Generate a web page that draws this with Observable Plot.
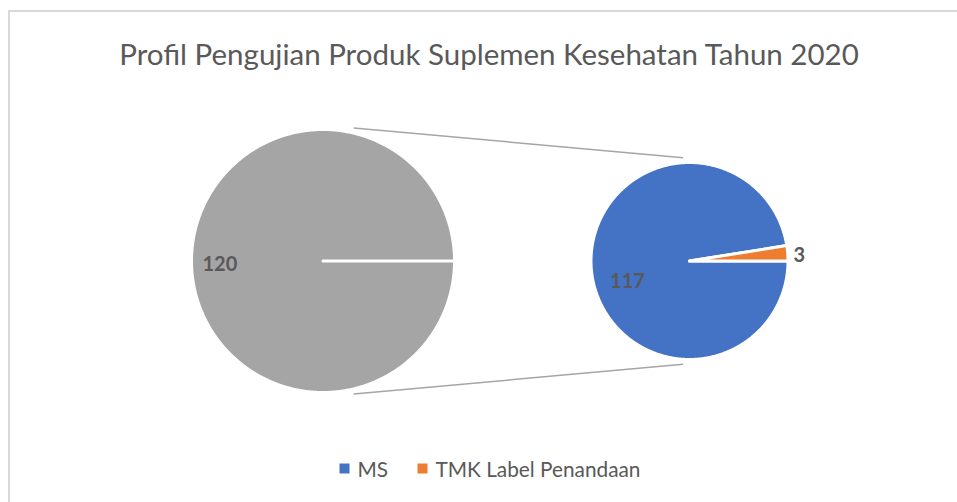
<!DOCTYPE html>
<html><head><meta charset="utf-8">
<script src="https://cdn.jsdelivr.net/npm/d3@7"></script>
<script src="https://cdn.jsdelivr.net/npm/@observablehq/plot@0.6"></script>
<style>html,body{margin:0;padding:0;background:#fff;} svg{display:block}</style>
</head><body><div id="chart"></div>
<script>
// ---- data ----
const title = "Profil Pengujian Produk Suplemen Kesehatan Tahun 2020";
const primaryValues = [120];            // first pie: the split-off group
const categories = ["MS", "TMK Label Penandaan"];
const values = [117, 3];                // second pie
const colors = ["#4472C4", "#ED7D31"];
const otherColor = "#A5A5A5";
const textColor = "#595959";

// ---- layout ----
const W = 957, H = 502;
const P1 = {cx: 322.5, cy: 260.5, r: 131.5};
const P2 = {cx: 689, cy: 260.5, r: 98.5};
const rad = d => d * Math.PI / 180;
const polar = (p, aDeg, rr) => ({x: p.cx + rr * Math.cos(rad(aDeg)), y: p.cy - rr * Math.sin(rad(aDeg))});

function wedge(p, a0, a1, key) {
  const pts = [{x: p.cx, y: p.cy, k: key}];
  const n = Math.max(2, Math.ceil(Math.abs(a1 - a0) * 2));
  for (let i = 0; i <= n; i++) {
    const a = a0 + (a1 - a0) * i / n;
    pts.push({...polar(p, a, p.r), k: key});
  }
  pts.push({x: p.cx, y: p.cy, k: key});
  return pts;
}

// first pie: single full slice
const total1 = d3.sum(primaryValues);
const pie1 = wedge(P1, 0, 360 * primaryValues[0] / total1, "other");

// second pie: clockwise from 0°
const total2 = d3.sum(values);
let cursor = 360;
const slices2 = values.map((v, i) => {
  const a0 = cursor, a1 = cursor - v / total2 * 360;
  cursor = a1;
  return {i, a0, a1, mid: (a0 + a1) / 2, pts: wedge(P2, a0, a1, categories[i])};
});

// connectors
const c1a = polar(P1, 90 - 13, P1.r + 5), c1b = polar(P2, 90 + 3.5, P2.r + 5);
const c2a = polar(P1, -90 + 13, P1.r + 5), c2b = polar(P2, -90 - 3.5, P2.r + 5);
const connectors = [
  {x1: c1a.x, y1: c1a.y, x2: c1b.x, y2: c1b.y},
  {x1: c2a.x, y1: c2a.y, x2: c2b.x, y2: c2b.y}
];

// data labels
const lab1 = {...polar(P1, 182, P1.r * 0.785), t: String(primaryValues[0])};
const labs2 = [
  {...polar(P2, 198.3, P2.r * 0.663), t: String(values[0])},
  {...polar(P2, 2.6, P2.r + 11.5), t: String(values[1])}
];

// legend
const legendX = [344, 422];
const legend = categories.map((c, i) => ({x: legendX[i], y: 468, c, col: colors[i]}));

const marks = [
  Plot.ruleX([8.5], {y1: 10, y2: H, stroke: "#D9D9D9", strokeWidth: 2}),
  Plot.ruleY([10.5], {x1: 8, x2: W, stroke: "#D9D9D9", strokeWidth: 2}),
  Plot.link(connectors, {x1: "x1", y1: "y1", x2: "x2", y2: "y2", stroke: "#A5A5A5", strokeWidth: 1.5}),
  Plot.line(pie1, {x: "x", y: "y", fill: otherColor, stroke: "white", strokeWidth: 3, curve: "linear"}),
  ...slices2.map(s => Plot.line(s.pts, {x: "x", y: "y", fill: colors[s.i], stroke: "white", strokeWidth: 3, curve: "linear"})),
  Plot.text([lab1, ...labs2], {x: "x", y: "y", text: "t", fill: textColor, fontSize: 20, fontWeight: "bold", lineAnchor: "middle", textAnchor: "middle"}),
  Plot.text([title], {x: () => 488.5, y: () => 64, text: d => d, fill: textColor, fontSize: 29.5, fontWeight: 400, lineAnchor: "bottom", textAnchor: "middle"}),
  Plot.dot(legend, {x: "x", y: "y", symbol: "square", r: 5.64, fill: "col", stroke: null}),
  Plot.text(legend, {x: d => d.x + 13, y: d => 476, text: "c", fill: textColor, fontSize: 20.8, textAnchor: "start", lineAnchor: "bottom"})
];

const chart = Plot.plot({
  width: W, height: H,
  margin: 0,
  x: {domain: [0, W], range: [0, W], axis: null},
  y: {domain: [0, H], range: [0, H], axis: null},
  color: {type: "identity"},
  style: {fontFamily: "Lato, 'Open Sans', sans-serif", background: "white"},
  marks
});
document.getElementById("chart").appendChild(chart);
</script>
</body></html>
